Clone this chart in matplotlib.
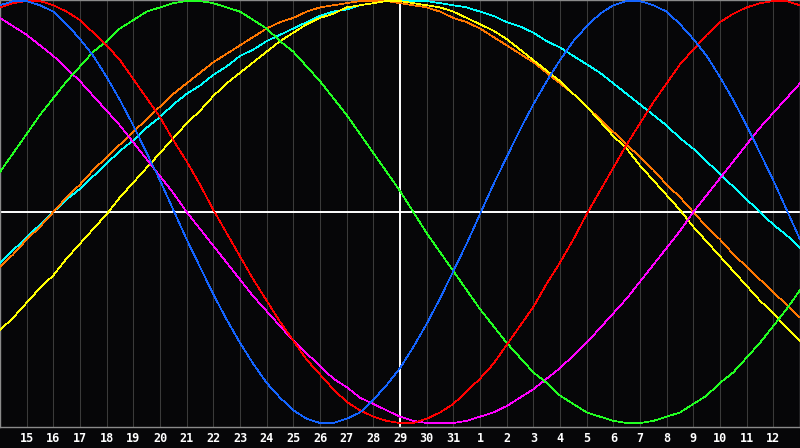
import matplotlib
matplotlib.use("Agg")
import matplotlib.pyplot as plt

# half-day steps from the left edge (14th) to the right edge (14th next month)
days = [i / 2 for i in range(61)]
day_labels = [str(n) for n in range(15, 32)] + [str(n) for n in range(1, 13)]
today = 15

# cycle values read every half day, -1..1
physical = [0.98, 1.00, 1.00, 0.98, 0.95, 0.89, 0.82, 0.74, 0.64, 0.53, 0.41, 0.28,
            0.15, 0.01, -0.13, -0.26, -0.39, -0.51, -0.62, -0.72, -0.81, -0.88,
            -0.94, -0.98, -1.00, -1.00, -0.98, -0.95, -0.89, -0.82, -0.74, -0.64,
            -0.53, -0.41, -0.28, -0.15, -0.01, 0.13, 0.26, 0.39, 0.51, 0.62, 0.72,
            0.81, 0.88, 0.94, 0.98, 1.00, 1.00, 0.98, 0.95, 0.89, 0.82, 0.74, 0.64,
            0.53, 0.41, 0.28, 0.15, 0.01, -0.13]
emotional = [0.97, 0.99, 1.00, 1.00, 0.98, 0.95, 0.91, 0.85, 0.79, 0.72, 0.63, 0.54,
             0.45, 0.34, 0.24, 0.13, 0.01, -0.10, -0.21, -0.32, -0.42, -0.52,
             -0.61, -0.70, -0.77, -0.84, -0.90, -0.94, -0.97, -0.99, -1.00, -1.00,
             -0.98, -0.95, -0.91, -0.85, -0.79, -0.72, -0.63, -0.54, -0.45, -0.34,
             -0.24, -0.13, -0.01, 0.10, 0.21, 0.32, 0.42, 0.52, 0.61, 0.70, 0.77,
             0.84, 0.90, 0.94, 0.97, 0.99, 1.00, 1.00, 0.98]
intellectual = [0.19, 0.28, 0.37, 0.46, 0.54, 0.62, 0.69, 0.76, 0.81, 0.87, 0.91, 0.95,
                0.97, 0.99, 1.00, 1.00, 0.99, 0.97, 0.95, 0.91, 0.87, 0.81, 0.76,
                0.69, 0.62, 0.54, 0.46, 0.37, 0.28, 0.19, 0.10, 0.00, -0.10, -0.19,
                -0.28, -0.37, -0.46, -0.54, -0.62, -0.69, -0.76, -0.81, -0.87, -0.91,
                -0.95, -0.97, -0.99, -1.00, -1.00, -0.99, -0.97, -0.95, -0.91, -0.87,
                -0.81, -0.76, -0.69, -0.62, -0.54, -0.46, -0.37]
intuitive = [0.92, 0.88, 0.84, 0.79, 0.74, 0.68, 0.62, 0.55, 0.48, 0.41, 0.33, 0.25,
             0.17, 0.09, 0.00, -0.08, -0.16, -0.24, -0.32, -0.40, -0.47, -0.54,
             -0.61, -0.67, -0.73, -0.79, -0.83, -0.88, -0.91, -0.94, -0.97, -0.99,
             -1.00, -1.00, -1.00, -0.99, -0.97, -0.95, -0.92, -0.88, -0.84, -0.79,
             -0.74, -0.68, -0.62, -0.55, -0.48, -0.41, -0.33, -0.25, -0.17, -0.09,
             0.00, 0.08, 0.16, 0.24, 0.32, 0.40, 0.47, 0.54, 0.61]
aesthetic = [-0.56, -0.50, -0.43, -0.36, -0.30, -0.22, -0.15, -0.08, -0.01, 0.07, 0.14,
             0.21, 0.28, 0.35, 0.42, 0.48, 0.55, 0.61, 0.66, 0.71, 0.76, 0.81, 0.85,
             0.89, 0.92, 0.94, 0.97, 0.98, 0.99, 1.00, 1.00, 0.99, 0.98, 0.97, 0.95,
             0.92, 0.89, 0.86, 0.82, 0.77, 0.72, 0.67, 0.62, 0.56, 0.50, 0.43, 0.36,
             0.30, 0.22, 0.15, 0.08, 0.01, -0.07, -0.14, -0.21, -0.28, -0.35, -0.42,
             -0.48, -0.55, -0.61]
awareness = [-0.26, -0.20, -0.13, -0.07, 0.00, 0.07, 0.13, 0.20, 0.26, 0.32, 0.38,
             0.44, 0.50, 0.56, 0.61, 0.66, 0.71, 0.75, 0.79, 0.83, 0.87, 0.90, 0.92,
             0.95, 0.97, 0.98, 0.99, 1.00, 1.00, 1.00, 0.99, 0.98, 0.97, 0.95, 0.92,
             0.90, 0.87, 0.83, 0.79, 0.75, 0.71, 0.66, 0.61, 0.56, 0.50, 0.44, 0.38,
             0.32, 0.26, 0.20, 0.13, 0.07, 0.00, -0.07, -0.13, -0.20, -0.26, -0.32,
             -0.38, -0.44, -0.50]
spiritual = [-0.24, -0.18, -0.12, -0.06, 0.00, 0.06, 0.11, 0.17, 0.23, 0.29, 0.34,
             0.40, 0.45, 0.51, 0.56, 0.60, 0.65, 0.69, 0.74, 0.77, 0.81, 0.84, 0.87,
             0.90, 0.93, 0.95, 0.96, 0.98, 0.99, 1.00, 1.00, 1.00, 1.00, 0.99, 0.98,
             0.97, 0.95, 0.93, 0.90, 0.88, 0.85, 0.81, 0.78, 0.74, 0.70, 0.66, 0.61,
             0.56, 0.51, 0.46, 0.41, 0.35, 0.30, 0.24, 0.18, 0.12, 0.06, 0.00, -0.06,
             -0.11, -0.17]

bg = '#060608'
fig = plt.figure(figsize=(8, 4.48), dpi=100, facecolor=bg)
ax = fig.add_axes([0, 21 / 448, 1, 427 / 448])
ax.set_facecolor(bg)

for d in range(1, 30):
    if d != today:
        ax.axvline(d, color='#3a3a3a', lw=0.75, zorder=1)
ax.axvline(today, color='white', lw=1.4, zorder=2)
ax.axhline(0, color='white', lw=1.4, zorder=2)

curves = [(spiritual, '#00ffff'), (awareness, '#ff7700'), (aesthetic, '#ffff00'),
          (intuitive, '#ff00ff'), (intellectual, '#22ff22'),
          (emotional, '#ff0000'), (physical, '#1464ff')]
for vals, c in curves:
    ax.plot(days, vals, color=c, lw=0.5, zorder=3, antialiased=False)

ax.set_xlim(0, 30)
ax.set_ylim(-1.019, 1.005)
ax.set_xticks([])
ax.set_yticks([])
for s in ax.spines.values():
    s.set_color('#8a8a8a')
    s.set_linewidth(1.0)

for i, lab in enumerate(day_labels):
    ax.text(i + 1, -11 / 427, lab, transform=ax.get_xaxis_transform(),
            ha='center', va='center', color='white', fontsize=8.5,
            fontweight='bold', family='DejaVu Sans Mono')

fig.savefig('out.png', facecolor=bg)
